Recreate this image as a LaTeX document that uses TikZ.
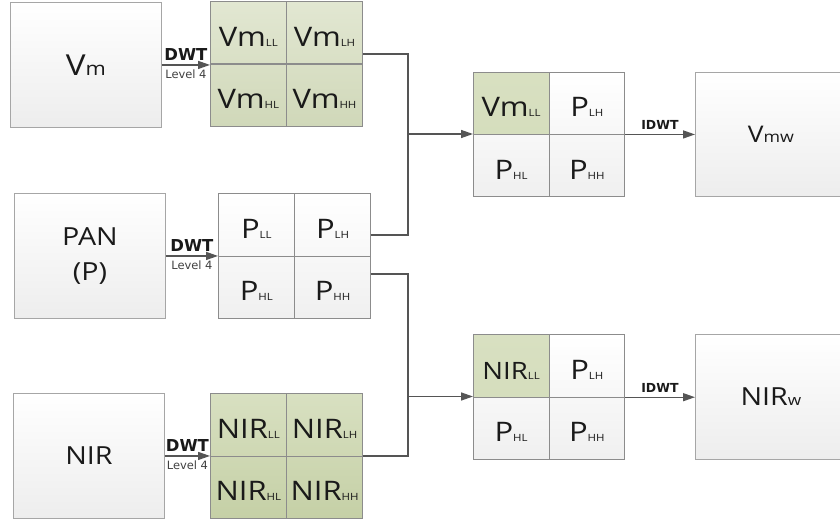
\documentclass[tikz,border=0pt]{standalone}
\usepackage{fontspec}
\setmainfont{Open Sans}[FakeStretch=1.15]
\newfontfamily\lblfont{DejaVu Sans}
\usetikzlibrary{arrows.meta}
\definecolor{bordergray}{HTML}{A6A6A6}
\definecolor{cellline}{HTML}{8C8C8C}
\definecolor{linegray}{HTML}{555555}
\definecolor{gA}{RGB}{226,231,210}
\definecolor{gB}{RGB}{208,216,185}
\definecolor{nA}{RGB}{216,224,193}
\definecolor{nB}{RGB}{197,208,166}
\definecolor{txt}{HTML}{1A1A1A}
\newcommand\lowtag[1]{{\fontsize{10}{10}\selectfont #1}}
\newcommand\bigtxt{\fontsize{27}{27}\selectfont}
\newcommand\smtxt{\fontsize{24}{24}\selectfont}
\tikzset{
  bigbox/.style={draw=bordergray, line width=0.9bp, top color=white, bottom color=gray!14,
    minimum width=151bp, minimum height=125bp, anchor=north west, inner sep=0pt,
    text=txt, align=center},
  wframe/.style={draw=bordergray, line width=0.9bp, top color=white, bottom color=gray!12,
    minimum width=152bp, minimum height=125bp, anchor=north west, inner sep=0pt},
  vframe/.style={wframe, top color=gA, bottom color=gB},
  nframe/.style={wframe, top color=nA, bottom color=nB},
  cell/.style={draw=cellline, line width=0.7bp, minimum width=76bp, minimum height=62.5bp,
    inner sep=0pt, text=txt, text height=27bp},
  gcell/.style={cell, top color=nA, bottom color=nA!85!nB},
  conn/.style={draw=linegray, line width=1.4bp},
  arr/.style={conn, -{Triangle[length=12bp,width=8bp]}},
  dwtlbl/.style={font=\lblfont\bfseries\fontsize{16.5}{16.5}\selectfont, text=txt, inner sep=0pt},
  lvllbl/.style={font=\lblfont\fontsize{11.5}{11.5}\selectfont, text=black!75, inner sep=0pt},
  idwtlbl/.style={font=\lblfont\bfseries\fontsize{12.5}{12.5}\selectfont, text=txt, inner sep=0pt},
}
\begin{document}
\begin{tikzpicture}[x=1bp,y=-1bp]
\clip (0,0) rectangle (840,522);
\fill[white] (0,0) rectangle (840,522);

% ---- source boxes
\node[bigbox] (vm) at (10,2) {\fontsize{29}{29}\selectfont V\fontsize{19}{19}\selectfont m};
\node[bigbox, font=\fontsize{25}{35}\selectfont] (pan) at (14,193) {PAN\\(P)};
\node[bigbox] (nir) at (13,393) {\fontsize{25}{25}\selectfont NIR};

% ---- Vm grid
\node[vframe] (g1) at (210,1) {};
\node[cell, anchor=north west] (g1ll) at (g1.north west) {\bigtxt Vm\lowtag{LL}};
\node[cell, anchor=north east] (g1lh) at (g1.north east) {\bigtxt Vm\lowtag{LH}};
\node[cell, anchor=south west] (g1hl) at (g1.south west) {\bigtxt Vm\lowtag{HL}};
\node[cell, anchor=south east] (g1hh) at (g1.south east) {\bigtxt Vm\lowtag{HH}};

% ---- P grid
\node[wframe] (g2) at (218,193) {};
\node[cell, anchor=north west] (g2ll) at (g2.north west) {\bigtxt P\lowtag{LL}};
\node[cell, anchor=north east] (g2lh) at (g2.north east) {\bigtxt P\lowtag{LH}};
\node[cell, anchor=south west] (g2hl) at (g2.south west) {\bigtxt P\lowtag{HL}};
\node[cell, anchor=south east] (g2hh) at (g2.south east) {\bigtxt P\lowtag{HH}};

% ---- NIR grid
\node[nframe] (g3) at (210,393) {};
\node[cell, anchor=north west] (g3ll) at (g3.north west) {\bigtxt NIR\lowtag{LL}};
\node[cell, anchor=north east] (g3lh) at (g3.north east) {\bigtxt NIR\lowtag{LH}};
\node[cell, anchor=south west] (g3hl) at (g3.south west) {\bigtxt NIR\lowtag{HL}};
\node[cell, anchor=south east] (g3hh) at (g3.south east) {\bigtxt NIR\lowtag{HH}};

% ---- result grid 1
\node[wframe, minimum width=151bp, minimum height=124bp] (r1) at (473,72) {};
\node[gcell, anchor=north west, minimum width=75.5bp, minimum height=62bp] (r1ll) at (r1.north west) {\bigtxt Vm\lowtag{LL}};
\node[cell, anchor=north east, minimum width=75.5bp, minimum height=62bp] (r1lh) at (r1.north east) {\bigtxt P\lowtag{LH}};
\node[cell, anchor=south west, minimum width=75.5bp, minimum height=62bp] (r1hl) at (r1.south west) {\bigtxt P\lowtag{HL}};
\node[cell, anchor=south east, minimum width=75.5bp, minimum height=62bp] (r1hh) at (r1.south east) {\bigtxt P\lowtag{HH}};

% ---- result grid 2
\node[wframe, minimum width=151bp, minimum height=125bp] (r2) at (473,334) {};
\node[gcell, anchor=north west, minimum width=75.5bp, minimum height=62.5bp] (r2ll) at (r2.north west) {\smtxt NIR\lowtag{LL}};
\node[cell, anchor=north east, minimum width=75.5bp, minimum height=62.5bp] (r2lh) at (r2.north east) {\bigtxt P\lowtag{LH}};
\node[cell, anchor=south west, minimum width=75.5bp, minimum height=62.5bp] (r2hl) at (r2.south west) {\bigtxt P\lowtag{HL}};
\node[cell, anchor=south east, minimum width=75.5bp, minimum height=62.5bp] (r2hh) at (r2.south east) {\bigtxt P\lowtag{HH}};

% ---- output boxes
\node[bigbox, minimum height=124bp] (vmw) at (695,72) {\fontsize{23}{23}\selectfont V\fontsize{15.5}{15.5}\selectfont mw};
\node[bigbox] (nirw) at (695,334) {\fontsize{25}{25}\selectfont NIR\fontsize{15}{15}\selectfont w};

% ---- DWT arrows
\draw[arr] (vm.east) -- node[dwtlbl, above=4bp]{DWT} node[lvllbl, below=4bp]{Level 4} (vm.east -| g1.west);
\draw[arr] (pan.east) -- node[dwtlbl, above=4bp]{DWT} node[lvllbl, below=4bp]{Level 4} (pan.east -| g2.west);
\draw[arr] (nir.east) -- node[dwtlbl, above=4bp]{DWT} node[lvllbl, below=4bp]{Level 4} (nir.east -| g3.west);

% ---- buses
\coordinate (b1top) at (408,54);
\coordinate (b1bot) at (408,235);
\coordinate (b1mid) at (408,134);
\coordinate (b2top) at (408,274);
\coordinate (b2bot) at (408,456);
\coordinate (b2mid) at (408,396.5);
\draw[conn] (g1.east |- b1top) -- (b1top) -- (b1bot) -- (g2.east |- b1bot);
\draw[arr] (b1mid) -- (r1.west |- b1mid);
\draw[conn] (g2.east |- b2top) -- (b2top) -- (b2bot) -- (g3.east |- b2bot);
\draw[arr] (b2mid) -- (r2.west |- b2mid);

% ---- IDWT arrows
\draw[arr] (r1.east) -- node[idwtlbl, above=4.5bp]{IDWT} (vmw.west);
\draw[arr] (r2.east |- r2lh.south) -- node[idwtlbl, above=4.5bp]{IDWT} (vmw.west |- r2lh.south);
\end{tikzpicture}
\end{document}
